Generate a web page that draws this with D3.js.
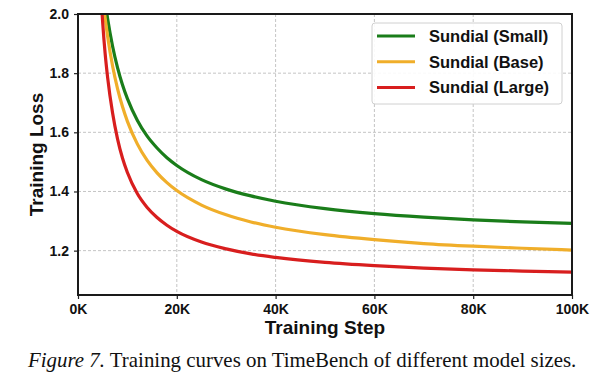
<!DOCTYPE html>
<html>
<head>
<meta charset="UTF-8">
<script src="https://cdnjs.cloudflare.com/ajax/libs/d3/7.8.5/d3.min.js"></script>
<style>
    body { margin: 0; background: #fff; }
    .tick text { font-family: "Liberation Sans", Arial, sans-serif; font-weight: bold; font-size: 14px; fill: #111; }
    .axis-title { font-family: "Liberation Sans", Arial, sans-serif; font-weight: bold; font-size: 19px; fill: #111; }
    .legend text { font-family: "Liberation Sans", Arial, sans-serif; font-weight: bold; font-size: 16.5px; fill: #111; }
    .caption { font-family: "Liberation Serif", "Times New Roman", serif; font-size: 20.9px; fill: #111; }
</style>
</head>
<body>
<svg id="chart" width="611" height="376"></svg>
<script>
// training steps (K)
const steps = [4.6, 5, 5.5, 6, 7, 8, 9, 10, 12, 14, 16, 18, 20, 25, 30, 35, 40, 50, 60, 70, 80, 90, 100];
const lossSmall = [null, null, 2.04, 1.984, 1.891, 1.819, 1.761, 1.714, 1.641, 1.587, 1.547, 1.514, 1.488, 1.44, 1.408, 1.385, 1.367, 1.342, 1.325, 1.313, 1.304, 1.297, 1.292];
const lossBase  = [null, 2.057, 1.985, 1.924, 1.824, 1.748, 1.687, 1.637, 1.561, 1.505, 1.463, 1.43, 1.403, 1.354, 1.321, 1.297, 1.279, 1.254, 1.237, 1.224, 1.215, 1.208, 1.202];
const lossLarge = [2.073, 1.97, 1.865, 1.785, 1.665, 1.578, 1.513, 1.464, 1.393, 1.346, 1.312, 1.286, 1.265, 1.229, 1.206, 1.189, 1.177, 1.16, 1.149, 1.141, 1.135, 1.131, 1.127];
const seriesNames = ["Sundial (Small)", "Sundial (Base)", "Sundial (Large)"];
const xTicks = [0, 20000, 40000, 60000, 80000, 100000];
const yTicks = [1.2, 1.4, 1.6, 1.8, 2.0];

const colors = ["#1a7d1a", "#f0ae2a", "#d81e1e"];
const plotL = 78, plotR = 572, plotT = 14, plotB = 295;

const svg = d3.select("#chart");
svg.append("rect").attr("width", 611).attr("height", 376).attr("fill", "#fff");

const x = d3.scaleLinear().domain([0, 100000]).range([plotL, plotR]);
const y = d3.scaleLinear().domain([1.05, 2.0]).range([plotB, plotT]);

// grid
svg.append("g").selectAll("line").data(xTicks.slice(1, -1)).enter().append("line")
    .attr("x1", d => x(d)).attr("x2", d => x(d)).attr("y1", plotT).attr("y2", plotB)
    .attr("stroke", "#b5b5b5").attr("stroke-width", 0.8).attr("stroke-dasharray", "3,2");
svg.append("g").selectAll("line").data(yTicks.slice(0, -1)).enter().append("line")
    .attr("x1", plotL).attr("x2", plotR).attr("y1", d => y(d)).attr("y2", d => y(d))
    .attr("stroke", "#b5b5b5").attr("stroke-width", 0.8).attr("stroke-dasharray", "3,2");

svg.append("clipPath").attr("id", "clip").append("rect")
    .attr("x", plotL).attr("y", plotT).attr("width", plotR - plotL).attr("height", plotB - plotT);

const line = d3.line()
    .defined(d => d[1] != null)
    .x(d => x(d[0] * 1000)).y(d => y(d[1]))
    .curve(d3.curveMonotoneX);

[lossSmall, lossBase, lossLarge].forEach((vals, i) => {
    svg.append("path")
        .datum(steps.map((s, j) => [s, vals[j]]))
        .attr("clip-path", "url(#clip)")
        .attr("fill", "none")
        .attr("stroke", colors[i])
        .attr("stroke-width", 3.2)
        .attr("d", line);
});

// axes
const xAxis = svg.append("g").attr("transform", `translate(0,${plotB})`)
    .call(d3.axisBottom(x).tickValues(xTicks).tickSize(4).tickPadding(5).tickFormat(d => d / 1000 + "K"));
const yAxis = svg.append("g").attr("transform", `translate(${plotL},0)`)
    .call(d3.axisLeft(y).tickValues(yTicks).tickSize(4).tickPadding(5).tickFormat(d3.format(".1f")));
[xAxis, yAxis].forEach(a => {
    a.select(".domain").remove();
    a.selectAll(".tick line").attr("stroke", "#222").attr("stroke-width", 1.2);
});

// frame
svg.append("rect").attr("x", plotL).attr("y", plotT).attr("width", plotR - plotL).attr("height", plotB - plotT)
    .attr("fill", "none").attr("stroke", "#1a1a1a").attr("stroke-width", 2);

svg.append("text").attr("class", "axis-title").attr("text-anchor", "middle")
    .attr("x", (plotL + plotR) / 2).attr("y", 334).text("Training Step");
svg.append("text").attr("class", "axis-title").attr("text-anchor", "middle")
    .attr("transform", `translate(43,${(plotT + plotB) / 2}) rotate(-90)`).text("Training Loss");

// legend
const legend = svg.append("g").attr("class", "legend");
legend.append("rect").attr("x", 372).attr("y", 23).attr("width", 190).attr("height", 81)
    .attr("rx", 3).attr("fill", "#fff").attr("fill-opacity", 0.9).attr("stroke", "#d0d0d0");
seriesNames.forEach((name, i) => {
    const cy = 36 + i * 25.7;
    legend.append("line").attr("x1", 377).attr("x2", 415).attr("y1", cy).attr("y2", cy)
        .attr("stroke", colors[i]).attr("stroke-width", 3);
    legend.append("text").attr("x", 429).attr("y", cy).attr("dy", "0.36em").text(name);
});

// caption
const cap = svg.append("text").attr("class", "caption").attr("x", 28).attr("y", 367);
cap.append("tspan").attr("font-style", "italic").text("Figure 7.");
cap.append("tspan").text(" Training curves on TimeBench of different model sizes.");
</script>
</body>
</html>
